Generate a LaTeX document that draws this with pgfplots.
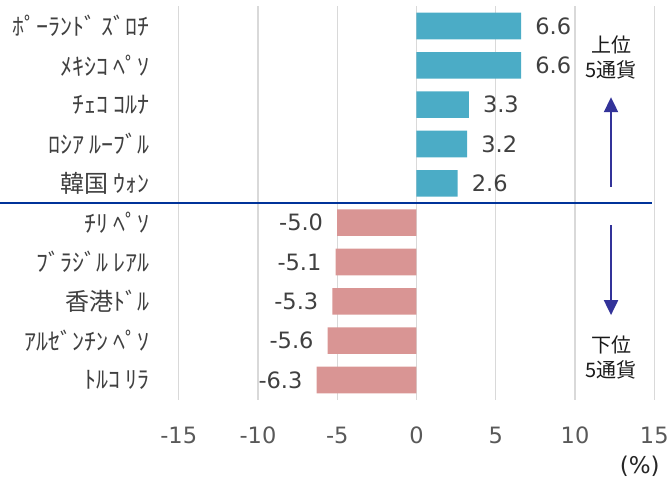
\documentclass[border=0pt]{standalone}
\usepackage{fontspec}
\setmainfont{DejaVu Sans}
\newfontfamily\jp{Noto Sans CJK JP}
\usepackage{pgfplots}
\pgfplotsset{compat=1.18}
\usetikzlibrary{arrows.meta}
\definecolor{barblue}{HTML}{4BACC6}
\definecolor{barpink}{HTML}{D99594}
\definecolor{sepblue}{HTML}{003399}
\definecolor{arrowblue}{HTML}{333399}
\definecolor{lbl}{HTML}{404040}
\definecolor{tck}{HTML}{595959}
\definecolor{grd}{HTML}{D9D9D9}
\begin{document}
\begin{tikzpicture}
\useasboundingbox (-178.7pt,-83.3pt) rectangle (491.3pt,399.7pt);
\begin{axis}[
  at={(0pt,0pt)}, anchor=south west,
  scale only axis, width=475.6pt, height=393.4pt,
  xmin=-15, xmax=15, ymin=0.5, ymax=10.5,
  y dir=reverse,
  xtick={-15,-10,...,15},
  ytick={1,...,10},
  yticklabels={ﾎﾟｰﾗﾝﾄﾞ ｽﾞﾛﾁ, ﾒｷｼｺ ﾍﾟｿ, ﾁｪｺ ｺﾙﾅ, ﾛｼｱ ﾙｰﾌﾞﾙ, 韓国 ｳｫﾝ, ﾁﾘ ﾍﾟｿ, ﾌﾞﾗｼﾞﾙ ﾚｱﾙ, 香港ﾄﾞﾙ, ｱﾙｾﾞﾝﾁﾝ ﾍﾟｿ, ﾄﾙｺ ﾘﾗ},
  yticklabel style={font=\jp\fontsize{24}{26}\selectfont, text=lbl, anchor=east, inner sep=0pt, xshift=-28.7pt},
  xticklabel style={font=\fontsize{22.5}{24}\selectfont, text=tck, anchor=base, inner sep=0pt, yshift=-43.3pt},
  xticklabel={\pgfmathprintnumber[assume math mode=true]{\tick}},
  /pgf/number format/assume math mode=true,
  major tick length=0pt,
  axis line style={draw=none},
  xmajorgrids, grid style={draw=grd, line width=1.3pt},
  clip=false,
]
\addplot[xbar, bar width=26.6pt, bar shift=0pt, fill=barblue, draw=none,
  nodes near coords, point meta=explicit symbolic,
  nodes near coords style={anchor=west, inner sep=0pt, xshift=14pt, text=lbl, font=\fontsize{22.5}{24}\selectfont}]
  table[meta=label] {
x y label
6.6 1 6.6
6.6 2 6.6
3.3 3 3.3
3.2 4 3.2
2.6 5 2.6
};
\addplot[xbar, bar width=26.6pt, bar shift=0pt, fill=barpink, draw=none,
  nodes near coords, point meta=explicit symbolic,
  nodes near coords style={anchor=east, inner sep=0pt, xshift=-14pt, text=lbl, font=\fontsize{22.5}{24}\selectfont}]
  table[meta=label] {
x y label
-5.0 6 -5.0
-5.1 7 -5.1
-5.3 8 -5.3
-5.6 9 -5.6
-6.3 10 -6.3
};
\draw[sepblue, line width=2pt] (axis cs:-26.28,5.5) -- (axis cs:14.84,5.5);
\draw[arrowblue, line width=2pt, -{Triangle[width=14pt,length=15pt]}] (axis cs:12.27,5.09) -- (axis cs:12.27,2.81);
\draw[arrowblue, line width=2pt, -{Triangle[width=14pt,length=15pt]}] (axis cs:12.27,6.06) -- (axis cs:12.27,8.35);
\node[align=center, font=\jp\fontsize{20}{25}\selectfont, text=black!90, inner sep=0pt] at (axis cs:12.27,1.80) {上位\\5通貨};
\node[align=center, font=\jp\fontsize{20}{25}\selectfont, text=black!90, inner sep=0pt] at (axis cs:12.27,9.43) {下位\\5通貨};
\node[anchor=east, font=\fontsize{23}{24}\selectfont, text=black!85, inner sep=0pt] at ([yshift=-67pt]axis cs:15.35,10.5) {(\%)};
\end{axis}
\end{tikzpicture}
\end{document}
